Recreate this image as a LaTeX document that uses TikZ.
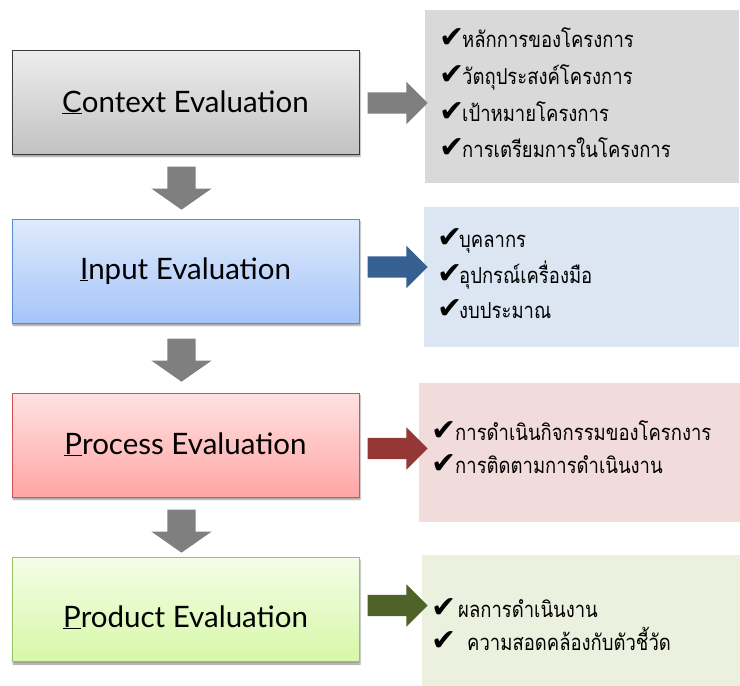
\documentclass[tikz,border=0pt]{standalone}
\usepackage{fontspec}
\setmainfont{Lato}
\newfontfamily\thaifont[Script=Thai,FakeStretch=0.84]{Loma}
\newfontfamily\symfont{DejaVu Sans}
\usetikzlibrary{shapes.arrows,shadows.blur,calc}

% stage boxes
\definecolor{ctxtop}{HTML}{EDEDED}
\definecolor{ctxbot}{HTML}{C2C2C2}
\definecolor{ctxline}{HTML}{3A3A3A}
\definecolor{inptop}{HTML}{DFEAFD}
\definecolor{inpbot}{HTML}{A5C5F8}
\definecolor{inpline}{HTML}{5A8AD0}
\definecolor{prctop}{HTML}{FFE2E2}
\definecolor{prcbot}{HTML}{FFA5A5}
\definecolor{prcline}{HTML}{D05252}
\definecolor{prdtop}{HTML}{F3FDE7}
\definecolor{prdbot}{HTML}{D7F8A8}
\definecolor{prdline}{HTML}{9CC163}
% block arrows
\definecolor{arrowgray}{HTML}{7F7F7F}
\definecolor{arrowblue}{HTML}{366092}
\definecolor{arrowred}{HTML}{953735}
\definecolor{arrowgreen}{HTML}{4F6228}
% detail panels
\definecolor{panelgray}{HTML}{D9D9D9}
\definecolor{panelblue}{HTML}{DCE6F2}
\definecolor{panelred}{HTML}{F2DCDB}
\definecolor{panelgreen}{HTML}{EBF1DE}

\tikzset{
  stage/.style={draw, line width=0.9pt, minimum width=347pt, minimum height=104pt,
    inner sep=0pt,
    blur shadow={shadow xshift=1pt, shadow yshift=-2.5pt, shadow blur radius=1.5pt, shadow opacity=40}},
  stagelabel/.style={anchor=base, inner sep=0pt, font=\fontsize{29.5}{34}\selectfont},
  panel/.style={anchor=north west, inner sep=0pt, draw=none},
  % shaft thickness = 2 * inner ysep, head = shaft + 2 * head extend
  downarrow/.style={single arrow, draw=none, fill=arrowgray,
    inner xsep=0pt, inner ysep=14pt,
    minimum height=43pt, single arrow head extend=16pt,
    single arrow tip angle=110, rotate=-90, anchor=tail},
  sidearrow/.style={single arrow, draw=none,
    inner xsep=0pt, inner ysep=10.5pt,
    minimum height=60pt, single arrow head extend=10.5pt,
    single arrow tip angle=90, anchor=tail},
  tick/.style={anchor=base west, inner sep=0pt, font=\symfont\fontsize{30}{32}\selectfont},
  item/.style={anchor=base west, inner sep=0pt, font=\thaifont\fontsize{22}{26}\selectfont}
}

\begin{document}
\begin{tikzpicture}[x=1pt,y=-1pt]
\useasboundingbox (0,0) rectangle (740,686);

% ---- stage boxes ----
\node[stage, draw=ctxline, top color=ctxtop, bottom color=ctxbot] (ctx) at (185.5,102) {};
\node[stage, draw=inpline, top color=inptop, bottom color=inpbot] (inp) at (185.5,271) {};
\node[stage, draw=prcline, top color=prctop, bottom color=prcbot] (prc) at (185.5,445) {};
\node[stage, draw=prdline, top color=prdtop, bottom color=prdbot] (prd) at (185.5,609.5) {};

\node[stagelabel] (ctxlabel) at (185.5,112) {\underline{C}ontext Evaluation};
\node[stagelabel] (inplabel) at (185.5,279) {\underline{I}nput Evaluation};
\node[stagelabel] (prclabel) at (185.5,454) {\underline{P}rocess Evaluation};
\node[stagelabel] (prdlabel) at (185.5,627) {\underline{P}roduct Evaluation};

% ---- flow between stages (tails placed below each box) ----
\node[downarrow] (d1) at ($(ctx.south)+(-4,12)$) {};
\node[downarrow] (d2) at ($(inp.south)+(-4,15)$) {};
\node[downarrow] (d3) at ($(prc.south)+(-4,12)$) {};

% ---- detail panels ----
\node[panel, fill=panelgray,  minimum width=314pt, minimum height=173pt] (ctxpanel) at (425,10) {};
\node[panel, fill=panelblue,  minimum width=315pt, minimum height=140pt] (inppanel) at (424,207) {};
\node[panel, fill=panelred,   minimum width=321pt, minimum height=139pt] (prcpanel) at (419,383) {};
\node[panel, fill=panelgreen, minimum width=318pt, minimum height=131pt] (prdpanel) at (422,555) {};

% ---- arrows from stages to panels ----
\node[sidearrow, fill=arrowgray]  (r1) at ($(ctx.east)+(8,1)$) {};
\node[sidearrow, fill=arrowblue]  (r2) at ($(inp.east)+(8,-4)$) {};
\node[sidearrow, fill=arrowred]   (r3) at ($(prc.east)+(8,3.5)$) {};
\node[sidearrow, fill=arrowgreen] (r4) at ($(prd.east)+(8,-4)$) {};

% ---- context items ----
\node[tick] (c1t) at (439,47) {✔};  \node[item] (c1) at (462,47) {หลักการของโครงการ};
\node[tick] (c2t) at (439,84) {✔};  \node[item] (c2) at (462,84) {วัตถุประสงค์โครงการ};
\node[tick] (c3t) at (439,121) {✔}; \node[item] (c3) at (462,121) {เป้าหมายโครงการ};
\node[tick] (c4t) at (439,157) {✔}; \node[item] (c4) at (462,157) {การเตรียมการในโครงการ};

% ---- input items ----
\node[tick] (i1t) at (437,247) {✔}; \node[item] (i1) at (459,247) {บุคลากร};
\node[tick] (i2t) at (437,283) {✔}; \node[item] (i2) at (459,283) {อุปกรณ์เครื่องมือ};
\node[tick] (i3t) at (437,318) {✔}; \node[item] (i3) at (459,318) {งบประมาณ};

% ---- process items ----
\node[tick] (p1t) at (431,440) {✔}; \node[item] (p1) at (455,440) {การดำเนินกิจกรรมของโครกงาร};
\node[tick] (p2t) at (431,473) {✔}; \node[item] (p2) at (455,473) {การติดตามการดำเนินงาน};

% ---- product items ----
\node[tick] (o1t) at (431,617) {✔}; \node[item] (o1) at (458,617) {ผลการดำเนินงาน};
\node[tick] (o2t) at (431,650) {✔}; \node[item] (o2) at (467,650) {ความสอดคล้องกับตัวชี้วัด};
\end{tikzpicture}
\end{document}
